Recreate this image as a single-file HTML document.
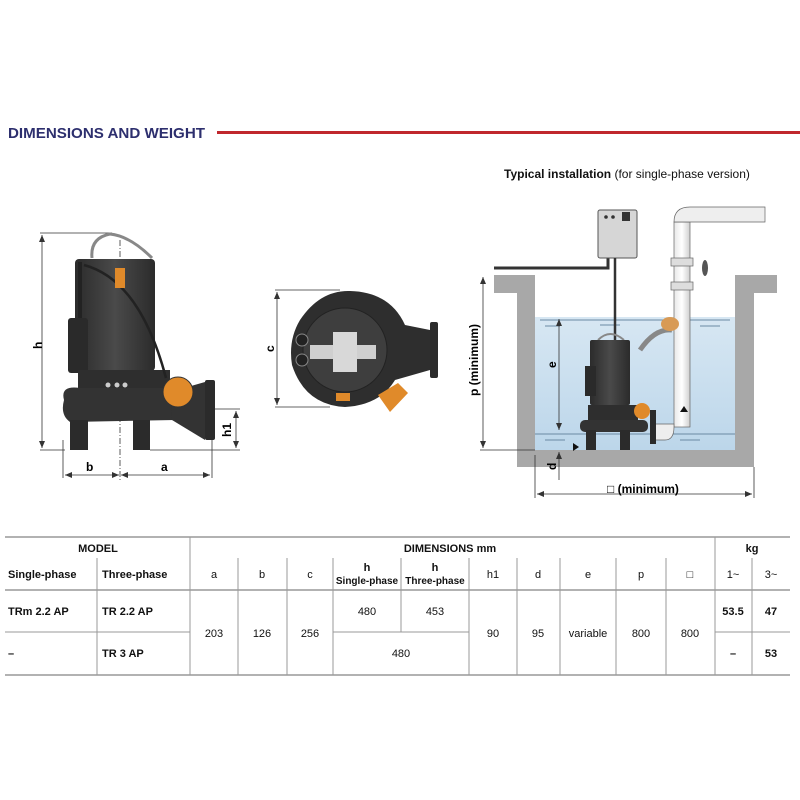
<!DOCTYPE html>
<html><head><meta charset="utf-8"><style>
html,body{margin:0;padding:0;background:#fff;}
svg{display:block;font-family:"Liberation Sans",sans-serif;}
</style></head><body>
<svg width="800" height="800" viewBox="0 0 800 800" xmlns="http://www.w3.org/2000/svg">
<defs>
<linearGradient id="wat" x1="0" y1="0" x2="0" y2="1"><stop offset="0" stop-color="#d7e7f3"/><stop offset="1" stop-color="#bcd6ea"/></linearGradient>
<linearGradient id="pump" x1="0" y1="0" x2="1" y2="0"><stop offset="0" stop-color="#2b2b2b"/><stop offset="0.5" stop-color="#4a4a4a"/><stop offset="1" stop-color="#2b2b2b"/></linearGradient>
<linearGradient id="pipe" x1="0" y1="0" x2="1" y2="0"><stop offset="0" stop-color="#e8e8e8"/><stop offset="0.5" stop-color="#fff"/><stop offset="1" stop-color="#cfcfcf"/></linearGradient>
<marker id="ar" markerWidth="8" markerHeight="8" refX="7" refY="4" orient="auto-start-reverse" markerUnits="userSpaceOnUse"><path d="M0,1 L7,4 L0,7 z" fill="#333"/></marker>
</defs>

<!-- Title -->
<text x="8" y="138" font-size="15" font-weight="bold" fill="#2d2f6e" textLength="197" lengthAdjust="spacingAndGlyphs">DIMENSIONS AND WEIGHT</text>
<rect x="217" y="131" width="583" height="3" fill="#c0272d"/>
<text x="504" y="178" font-size="12" fill="#111"><tspan font-weight="bold">Typical installation</tspan> (for single-phase version)</text>

<!-- LEFT PUMP -->
<g stroke="#333" stroke-width="0.8" fill="none">
<line x1="40" y1="233" x2="112" y2="233"/>
<line x1="40" y1="450" x2="65" y2="450"/>
<line x1="42" y1="235" x2="42" y2="448" marker-start="url(#ar)" marker-end="url(#ar)"/>
<line x1="63" y1="440" x2="63" y2="478"/>
<line x1="212" y1="440" x2="212" y2="478"/>
<line x1="65" y1="475" x2="119" y2="475" marker-start="url(#ar)" marker-end="url(#ar)"/>
<line x1="121" y1="475" x2="210" y2="475" marker-start="url(#ar)" marker-end="url(#ar)"/>
<line x1="212" y1="409" x2="240" y2="409"/>
<line x1="150" y1="450" x2="240" y2="450"/>
<line x1="236" y1="411" x2="236" y2="448" marker-start="url(#ar)" marker-end="url(#ar)"/>
<line x1="120" y1="240" x2="120" y2="480" stroke-dasharray="6,2,1,2"/>
</g>
<text x="30" y="345" font-size="12" font-weight="bold" transform="rotate(-90 38 341)">h</text>
<text x="86" y="471" font-size="12" font-weight="bold">b</text>
<text x="161" y="471" font-size="12" font-weight="bold">a</text>
<text x="0" y="0" font-size="12" font-weight="bold" text-anchor="middle" transform="translate(231 430) rotate(-90)">h1</text>
<!-- pump body -->
<path d="M92,258 Q90,238 110,234 Q130,236 152,258" fill="none" stroke="#888" stroke-width="3"/>
<rect x="75" y="259" width="80" height="112" rx="4" fill="url(#pump)"/>
<rect x="68" y="318" width="20" height="55" rx="3" fill="#2a2a2a"/>
<path d="M80,262 L80,318" stroke="#222" stroke-width="4"/>
<rect x="78" y="370" width="92" height="30" fill="#2e2e2e"/>
<path d="M64,400 Q60,385 80,388 L175,388 L175,420 L70,422 Q60,415 64,400z" fill="#333"/>
<rect x="70" y="420" width="18" height="30" fill="#2b2b2b"/>
<rect x="133" y="420" width="17" height="30" fill="#2b2b2b"/>
<path d="M170,392 L205,382 L205,440 L172,420z" fill="#333"/>
<rect x="205" y="380" width="10" height="60" rx="2" fill="#2b2b2b"/>
<circle cx="178" cy="392" r="15" fill="#e08a2a" stroke="#333"/>
<path d="M84,265 Q140,280 166,378" fill="none" stroke="#222" stroke-width="2.5"/>
<rect x="115" y="268" width="10" height="20" fill="#e08a2a"/>
<circle cx="108" cy="385" r="2.5" fill="#ccc"/><circle cx="117" cy="385" r="2.5" fill="#ccc"/><circle cx="125" cy="385" r="2.5" fill="#ccc"/>

<!-- TOP VIEW -->
<g stroke="#333" stroke-width="0.8" fill="none">
<line x1="275" y1="290" x2="340" y2="290"/>
<line x1="275" y1="407" x2="330" y2="407"/>
<line x1="277" y1="292" x2="277" y2="405" marker-start="url(#ar)" marker-end="url(#ar)"/>
</g>
<text x="266" y="352" font-size="12" font-weight="bold" transform="rotate(-90 270 348)">c</text>
<path d="M300,320 Q320,290 350,291 Q390,292 405,325 L430,330 L430,370 L395,380 Q380,405 345,407 Q305,405 292,365 Q288,340 300,320z" fill="#2e2e2e"/>
<rect x="430" y="322" width="8" height="56" rx="2" fill="#2b2b2b"/>
<circle cx="345" cy="350" r="42" fill="#3e3e3e" stroke="#222"/>
<rect x="310" y="345" width="66" height="14" fill="#cfcfcf"/>
<rect x="333" y="332" width="24" height="40" fill="#d8d8d8"/>
<circle cx="302" cy="340" r="6" fill="#222" stroke="#888"/><circle cx="302" cy="360" r="6" fill="#222" stroke="#888"/>
<path d="M378,395 L398,383 L408,393 L390,412z" fill="#e08a2a"/>
<rect x="336" y="393" width="14" height="8" fill="#e08a2a"/>

<!-- INSTALLATION -->
<path d="M494,275 L535,275 L535,450 L735,450 L735,275 L777,275 L777,293 L754,293 L754,467 L517,467 L517,293 L494,293z" fill="#a8a8a8"/>
<rect x="535" y="317" width="200" height="133" fill="url(#wat)"/>
<g stroke="#6b8aa3" stroke-width="1">
<line x1="540" y1="320" x2="730" y2="320"/><line x1="545" y1="326" x2="560" y2="326"/><line x1="600" y1="325" x2="620" y2="325"/><line x1="700" y1="326" x2="720" y2="326"/>
<line x1="535" y1="434" x2="735" y2="434"/><line x1="545" y1="440" x2="565" y2="440"/><line x1="680" y1="440" x2="700" y2="440"/>
</g>
<path d="M494,268 L608,268 L608,258" fill="none" stroke="#333" stroke-width="3"/>
<rect x="598" y="210" width="39" height="48" rx="2" fill="#d6d6d6" stroke="#555"/>
<circle cx="606" cy="217" r="1.8" fill="#333"/><circle cx="613" cy="217" r="1.8" fill="#333"/>
<rect x="622" y="212" width="8" height="9" fill="#333"/>
<line x1="615" y1="258" x2="615" y2="340" stroke="#333" stroke-width="2.5"/>
<!-- pipe -->
<rect x="674" y="222" width="16" height="205" fill="url(#pipe)" stroke="#666" stroke-width="0.7"/>
<path d="M674,222 Q674,207 690,207 L765,207 L765,222 L690,222z" fill="#eee" stroke="#666" stroke-width="0.7"/>
<rect x="671" y="258" width="22" height="8" fill="#ddd" stroke="#666" stroke-width="0.7"/>
<rect x="671" y="282" width="22" height="8" fill="#ddd" stroke="#666" stroke-width="0.7"/>
<ellipse cx="705" cy="268" rx="3" ry="8" fill="#555"/>
<path d="M674,427 Q674,440 665,440 L652,440 L652,424 L674,424z" fill="#eee" stroke="#666" stroke-width="0.7"/>
<path d="M680,412 L684,406 L688,412z" fill="#111"/>
<path d="M672,330 Q655,328 640,350" fill="none" stroke="#888" stroke-width="5"/>
<ellipse cx="670" cy="324" rx="9" ry="7" fill="#d89a55"/>
<!-- mini pump -->
<path d="M598,340 Q610,328 624,340" fill="none" stroke="#888" stroke-width="2"/>
<rect x="590" y="340" width="40" height="65" rx="2" fill="url(#pump)"/>
<rect x="585" y="366" width="11" height="30" fill="#2a2a2a"/>
<rect x="588" y="405" width="50" height="20" fill="#2e2e2e"/>
<rect x="580" y="420" width="68" height="12" rx="5" fill="#333"/>
<rect x="586" y="430" width="10" height="20" fill="#2b2b2b"/><rect x="620" y="430" width="10" height="20" fill="#2b2b2b"/>
<rect x="650" y="410" width="6" height="34" fill="#2b2b2b"/>
<circle cx="642" cy="411" r="8" fill="#e08a2a"/>
<path d="M573,443 L579,447 L573,451z" fill="#111"/>
<g stroke="#333" stroke-width="0.8" fill="none">
<line x1="483" y1="277" x2="483" y2="448" marker-start="url(#ar)" marker-end="url(#ar)"/>
<line x1="480" y1="450" x2="535" y2="450"/>
<line x1="559" y1="319" x2="559" y2="430" marker-start="url(#ar)" marker-end="url(#ar)"/>
<line x1="559" y1="452" x2="559" y2="480" marker-start="url(#ar)"/>
<line x1="535" y1="455" x2="535" y2="498"/>
<line x1="754" y1="467" x2="754" y2="498"/>
<line x1="537" y1="494" x2="752" y2="494" marker-start="url(#ar)" marker-end="url(#ar)"/>
</g>
<text x="478" y="360" font-size="12" font-weight="bold" transform="rotate(-90 478 360)" text-anchor="middle">p  (minimum)</text>
<text x="556" y="376" font-size="12" font-weight="bold" transform="rotate(-90 552 372)">e</text>
<text x="556" y="478" font-size="12" font-weight="bold" transform="rotate(-90 552 474)">d</text>
<text x="607" y="493" font-size="12" font-weight="bold">&#9633; (minimum)</text>

<!-- TABLE -->
<g stroke="#999" stroke-width="1">
<line x1="5" y1="537" x2="790" y2="537" stroke-width="1.5"/>
<line x1="5" y1="590" x2="790" y2="590" stroke-width="1.5"/>
<line x1="5" y1="675" x2="790" y2="675" stroke-width="1.5"/>
<line x1="5" y1="632" x2="190" y2="632"/>
<line x1="333" y1="632" x2="469" y2="632"/>
<line x1="715" y1="632" x2="790" y2="632"/>
<line x1="97" y1="558" x2="97" y2="675"/>
<line x1="190" y1="537" x2="190" y2="675"/>
<line x1="238" y1="558" x2="238" y2="675"/>
<line x1="287" y1="558" x2="287" y2="675"/>
<line x1="333" y1="558" x2="333" y2="675"/>
<line x1="401" y1="558" x2="401" y2="632"/>
<line x1="469" y1="558" x2="469" y2="675"/>
<line x1="517" y1="558" x2="517" y2="675"/>
<line x1="560" y1="558" x2="560" y2="675"/>
<line x1="616" y1="558" x2="616" y2="675"/>
<line x1="666" y1="558" x2="666" y2="675"/>
<line x1="715" y1="537" x2="715" y2="675"/>
<line x1="752" y1="558" x2="752" y2="675"/>
</g>
<g font-size="11" fill="#111" text-anchor="middle">
<text x="98" y="552" font-weight="bold">MODEL</text>
<text x="450" y="552" font-weight="bold">DIMENSIONS mm</text>
<text x="752" y="552" font-weight="bold">kg</text>
<text x="8" y="578" text-anchor="start" font-weight="bold">Single-phase</text>
<text x="102" y="578" text-anchor="start" font-weight="bold">Three-phase</text>
<text x="214" y="578">a</text><text x="262" y="578">b</text><text x="310" y="578">c</text>
<text x="367" y="571" font-weight="bold">h</text><text x="367" y="584" font-size="10" font-weight="bold">Single-phase</text>
<text x="435" y="571" font-weight="bold">h</text><text x="435" y="584" font-size="10" font-weight="bold">Three-phase</text>
<text x="493" y="578">h1</text><text x="538" y="578">d</text><text x="588" y="578">e</text><text x="641" y="578">p</text><text x="690" y="578">&#9633;</text>
<text x="733" y="578">1~</text><text x="771" y="578">3~</text>
<text x="8" y="615" text-anchor="start" font-weight="bold">TRm 2.2 AP</text>
<text x="102" y="615" text-anchor="start" font-weight="bold">TR 2.2 AP</text>
<text x="8" y="657" text-anchor="start" font-weight="bold">–</text>
<text x="102" y="657" text-anchor="start" font-weight="bold">TR 3 AP</text>
<text x="214" y="637">203</text><text x="262" y="637">126</text><text x="310" y="637">256</text>
<text x="367" y="615">480</text><text x="435" y="615">453</text><text x="401" y="657">480</text>
<text x="493" y="637">90</text><text x="538" y="637">95</text><text x="588" y="637">variable</text><text x="641" y="637">800</text><text x="690" y="637">800</text>
<text x="733" y="615" font-weight="bold">53.5</text><text x="771" y="615" font-weight="bold">47</text>
<text x="733" y="657" font-weight="bold">–</text><text x="771" y="657" font-weight="bold">53</text>
</g>
</svg>
</body></html>
